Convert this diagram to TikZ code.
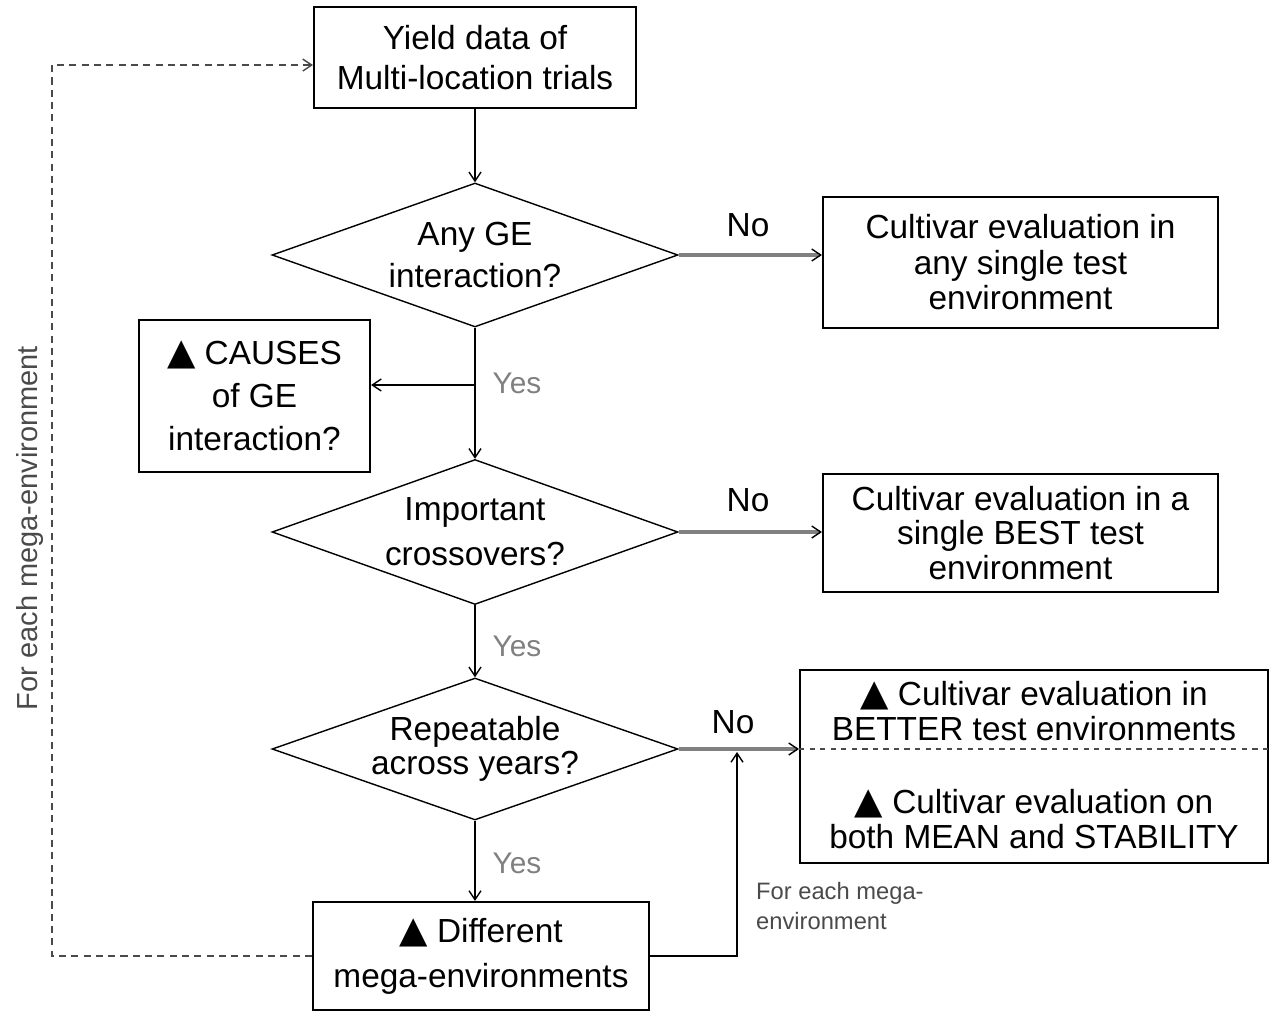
\documentclass[tikz,border=0pt]{standalone}
\usepackage{fontspec}
\setmainfont{Liberation Sans}
\newfontfamily\symfont{DejaVu Sans}
\usepackage{xcolor}
\usetikzlibrary{shapes.geometric,arrows.meta}

\definecolor{labgray}{HTML}{808080}
\definecolor{notegray}{HTML}{4A4A4A}
\newcommand{\tri}{{\symfont\fontsize{21}{21}\selectfont ▲}}

\tikzset{
  lines/.style={font=\fontsize{19}{#1}\selectfont},
  box/.style={draw, line width=1.2pt, align=center, inner sep=0pt, lines=22.8pt},
  decide/.style={diamond, draw, line width=0.8pt, align=center, inner sep=0pt,
    aspect=2.8, lines=22.8pt},
  flow/.style={-{Straight Barb[length=1.8mm,width=2.4mm]}, line width=0.8pt},
  noflow/.style={-{Straight Barb[length=1.8mm,width=2.4mm,line width=0.8pt,color=black]},
    draw=labgray, line width=1.8pt},
  yeslab/.style={text=labgray, font=\fontsize{17}{20}\selectfont},
  nolab/.style={font=\fontsize{19}{22}\selectfont},
  note/.style={text=notegray, align=left, font=\fontsize{13.5}{17}\selectfont}
}

\begin{document}
\begin{tikzpicture}[x=0.02cm, y=-0.02cm]
  \useasboundingbox (0,0) rectangle (1274,1013);

  % main column
  \node[box, minimum width=6.44cm, minimum height=2.02cm] (data) at (475,57.5)
    {Yield data of\\Multi-location trials};
  \node[decide, lines=23.9pt, minimum width=8.12cm, minimum height=2.88cm] (ge) at (475,255)
    {Any GE\\interaction?};
  \node[decide, lines=25.6pt, minimum width=8.12cm, minimum height=2.9cm] (cross) at (475,532)
    {Important\\crossovers?};
  \node[decide, lines=19.6pt, minimum width=8.12cm, minimum height=2.84cm] (repeat) at (475,749)
    {Repeatable\\across years?};
  \node[box, lines=25.6pt, minimum width=6.72cm, minimum height=2.16cm] (mega) at (481,956)
    {\tri\ Different\\mega-environments};

  % side boxes
  \node[box, lines=24.5pt, minimum width=4.62cm, minimum height=3.04cm] (causes) at (254.5,396)
    {\tri\ CAUSES\\of GE\\interaction?};
  \node[box, lines=20.2pt, minimum width=7.9cm, minimum height=2.62cm] (anyenv) at (1020.5,262.5)
    {Cultivar evaluation in\\any single test\\environment};
  \node[box, lines=19.4pt, minimum width=7.9cm, minimum height=2.36cm] (bestenv) at (1020.5,533)
    {Cultivar evaluation in a\\single BEST test\\environment};
  \node[box, minimum width=9.36cm, minimum height=3.86cm] (better) at (1034,766.5) {};
  \node[align=center, lines=19.6pt] (betterA) at (1034,711)
    {\tri\ Cultivar evaluation in\\BETTER test environments};
  \node[align=center, lines=19.6pt] (betterB) at (1034,819)
    {\tri\ Cultivar evaluation on\\both MEAN and STABILITY};
  \draw[dashed, line width=0.8pt, draw=notegray] (better.west |- repeat.east) -- (better.east |- repeat.east);

  % connectors
  \coordinate (fork) at (475,385);
  \coordinate (join) at (737,752);
  \coordinate (back) at (52,952);
  \draw[flow] (data) -- (ge);
  \draw[flow] (ge) -- (cross);
  \draw[flow] (fork) -- (fork -| causes.east);
  \draw[flow] (cross) -- (repeat);
  \draw[flow] (repeat.south) -- (repeat.south |- mega.north);
  \draw[noflow] (ge.east) -- (ge.east -| anyenv.west);
  \draw[noflow] (cross.east) -- (cross.east -| bestenv.west);
  \draw[noflow] (repeat.east) -- (repeat.east -| better.west);
  \draw[flow] (mega.east) -| (join);
  \draw[flow, dashed, dash pattern=on 4pt off 3pt, draw=notegray]
    (mega.west) -- (mega.west -| back) |- ([yshift=-4.3pt]data.west);

  % labels
  \node[nolab] (no1) at (748,225) {No};
  \node[nolab] (no2) at (748,500) {No};
  \node[nolab] (no3) at (733,722) {No};
  \node[yeslab] (yes1) at (517,383) {Yes};
  \node[yeslab] (yes2) at (517,646) {Yes};
  \node[yeslab] (yes3) at (517,863) {Yes};
  \node[note, anchor=north west] (each) at (750,876) {For each mega-\\environment};
  \node[text=notegray, rotate=90, font=\fontsize{16.5}{20}\selectfont] (loopnote) at (30,528)
    {For each mega-environment};
\end{tikzpicture}
\end{document}
